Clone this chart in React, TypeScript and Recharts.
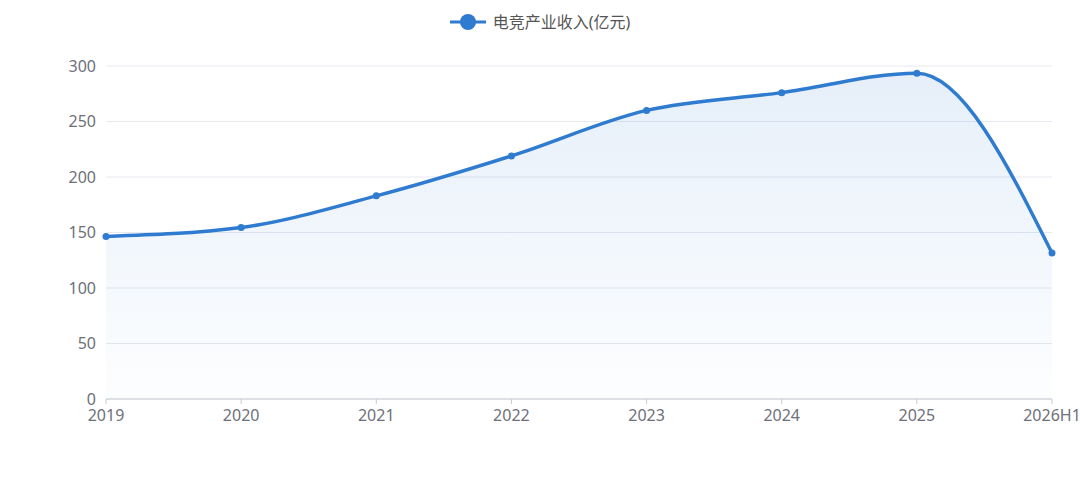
import { AreaChart, Area, XAxis, YAxis, CartesianGrid } from 'recharts'

const years = ['2019', '2020', '2021', '2022', '2023', '2024', '2025', '2026H1']
const revenue = [146.5, 154.5, 183, 219, 260, 276, 293.5, 131.5]
const yTicks = [0, 50, 100, 150, 200, 250, 300]

const SERIES_NAME = '电竞产业收入(亿元)'
const LINE_COLOR = '#2e7bd0'
const FONT = "'Noto Sans', 'Noto Sans CJK SC', sans-serif"

const data = years.map((year, i) => ({ year, value: revenue[i] }))

function LegendBar() {
  return (
    <div
      style={{
        position: 'absolute',
        top: 10,
        left: 0,
        width: 1080,
        display: 'flex',
        justifyContent: 'center',
        alignItems: 'center',
        fontFamily: FONT,
      }}
    >
      <svg width={36} height={20} style={{ marginRight: 7 }}>
        <line x1={0} y1={10} x2={36} y2={10} stroke={LINE_COLOR} strokeWidth={3} />
        <circle cx={18} cy={10} r={8} fill={LINE_COLOR} />
      </svg>
      <span style={{ fontSize: 16, color: '#555', lineHeight: '24px' }}>{SERIES_NAME}</span>
    </div>
  )
}

export default function App() {
  return (
    <div style={{ position: 'absolute', top: 0, left: 0, width: 1080, height: 487, background: '#fff' }}>
      <AreaChart width={1080} height={487} data={data} margin={{ top: 66, right: 28, bottom: 58, left: 0 }}>
        <defs>
          <linearGradient id="areaFill" x1="0" y1="0" x2="0" y2="1">
            <stop offset="0%" stopColor={LINE_COLOR} stopOpacity={0.2} />
            <stop offset="100%" stopColor={LINE_COLOR} stopOpacity={0.02} />
          </linearGradient>
        </defs>
        <CartesianGrid vertical={false} stroke="#e6e9ef" />
        <XAxis
          dataKey="year"
          height={30}
          tick={{ fill: '#6e7079', fontSize: 16, fontFamily: FONT }}
          axisLine={{ stroke: '#c8ccd4' }}
          tickLine={{ stroke: '#c8ccd4' }}
          tickSize={5}
          tickMargin={6}
          interval={0}
        />
        <YAxis
          width={106}
          domain={[0, 300]}
          ticks={yTicks}
          tick={{ fill: '#6e7079', fontSize: 16, fontFamily: FONT }}
          axisLine={false}
          tickLine={false}
          tickSize={0}
          tickMargin={10}
        />
        <Area
          type="monotone"
          dataKey="value"
          name={SERIES_NAME}
          stroke={LINE_COLOR}
          strokeWidth={3.5}
          fill="url(#areaFill)"
          dot={{ r: 3.5, fill: LINE_COLOR, stroke: 'none', fillOpacity: 1 }}
          activeDot={false}
          isAnimationActive={false}
        />
      </AreaChart>
      <LegendBar />
    </div>
  )
}
